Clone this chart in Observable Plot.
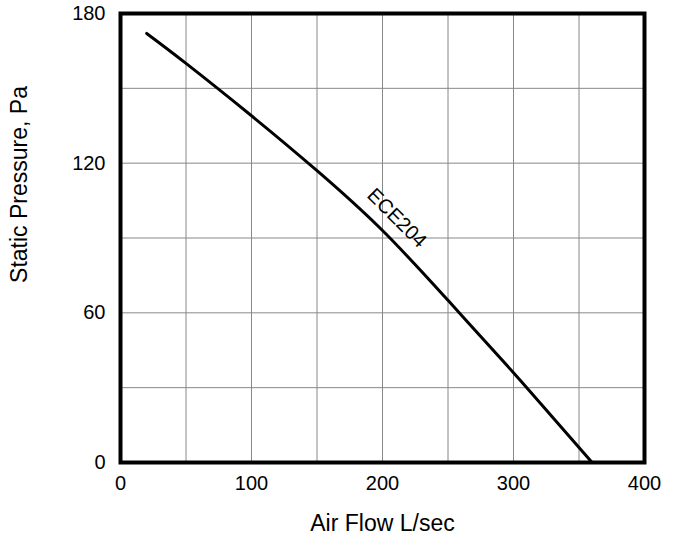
<!DOCTYPE html>
<html><head><meta charset="utf-8">
<script src="https://cdn.jsdelivr.net/npm/d3@7"></script>
<script src="https://cdn.jsdelivr.net/npm/@observablehq/plot@0.6"></script>
<style>
html,body{margin:0;padding:0;background:#fff;}
svg{font-family:"Liberation Sans",Arial,sans-serif;}
</style></head>
<body><div id="chart"></div>
<script>
const airFlow = [20, 50, 100, 150, 200, 250, 300, 330, 360];
const pressure = [172, 160, 139, 117, 93, 65, 36, 18, 0];
const xTicks = [0, 100, 200, 300, 400];
const yTicks = [0, 60, 120, 180];
const xGrid = [50, 100, 150, 200, 250, 300, 350];
const yGrid = [30, 60, 90, 120, 150];
const seriesLabel = ["ECE204"];
const labelPos = [{x: 211, y: 98}];
const xTitle = ["Air Flow L/sec"];
const yTitle = ["Static Pressure, Pa"];

const data = airFlow.map((x, i) => ({x, y: pressure[i]}));

const chart = Plot.plot({
  width: 680, height: 549,
  marginLeft: 120, marginRight: 36, marginTop: 13, marginBottom: 87,
  style: {fontSize: "20px", fontFamily: "'Liberation Sans', Arial, sans-serif", color: "#000"},
  x: {domain: [0, 400]},
  y: {domain: [0, 180]},
  marks: [
    Plot.gridX(xGrid, {stroke: "#888", strokeOpacity: 1, strokeWidth: 1}),
    Plot.gridY(yGrid, {stroke: "#888", strokeOpacity: 1, strokeWidth: 1}),
    Plot.axisX(xTicks, {tickSize: 0, tickPadding: 13, fontSize: 20, label: null}),
    Plot.axisY(yTicks, {tickSize: 0, tickPadding: 15, fontSize: 20, label: null}),
    Plot.text(xTitle, {text: d => d, frameAnchor: "bottom", dy: 68, fontSize: 23, fill: "#000"}),
    Plot.text(yTitle, {text: d => d, frameAnchor: "top-left", textAnchor: "middle", lineAnchor: "middle", rotate: -90, dx: -101, dy: 171, fontSize: 23, fill: "#000"}),
    Plot.line(data, {x: "x", y: "y", curve: "natural", stroke: "#000", strokeWidth: 3}),
    Plot.text(labelPos, {x: "x", y: "y", text: () => seriesLabel[0], rotate: 45, fontSize: 20, fill: "#000"}),
    Plot.frame({stroke: "#000", strokeWidth: 4})
  ]
});
document.getElementById("chart").appendChild(chart);
</script></body></html>
